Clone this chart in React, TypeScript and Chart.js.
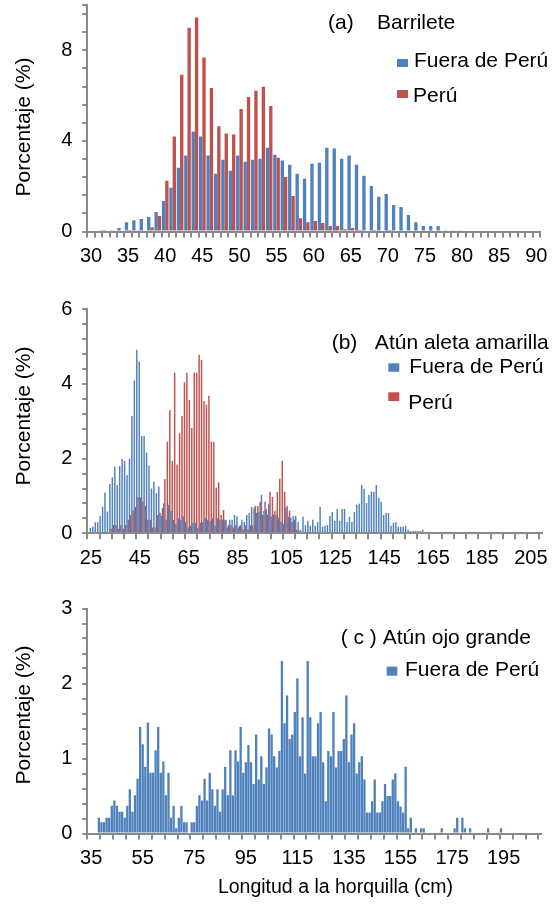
import React, { useEffect, useRef } from "react";
import { Chart, registerables } from "chart.js";

Chart.register(...registerables);

const FONT = "'Liberation Sans', Arial, Helvetica, sans-serif";
const AXIS = "#8a8a8a";
const BLUE = "#4F81BD";
const RED = "#C0504D";

function cmRange(a: number, b: number): number[] {
  const out: number[] = [];
  for (let v = a; v <= b; v++) out.push(v);
  return out;
}

// ---------- (a) Barrilete : 30..90 cm ----------
const barrileteCm = cmRange(30, 90);
const barrileteTickLabels = [30, 35, 40, 45, 50, 55, 60, 65, 70, 75, 80, 85, 90];
const barrileteFuera = [
  0, 0, 0.02, 0.06, 0.15, 0.41, 0.5, 0.55, 0.64, 0.86,
  1.35, 1.93, 2.81, 3.35, 4.41, 4.19, 3.35, 2.55, 3.17, 2.68,
  3.35, 3.08, 3.17, 3.21, 3.7, 3.39, 3.13, 2.95, 2.55, 2.33,
  2.99, 3.04, 3.7, 3.66, 3.21, 3.35, 2.95, 2.46, 2.01, 1.53,
  1.66, 1.17, 1.08, 0.73, 0.41, 0.24, 0.24, 0.24, 0.06, 0.03,
  0.03, 0, 0, 0, 0, 0, 0, 0, 0, 0,
  0,
];
const barrilettePeru = [
  0, 0.03, 0, 0, 0, 0.02, 0.06, 0.05, 0.19, 0.68,
  2.24, 4.19, 6.92, 9.0, 9.45, 7.68, 6.34, 4.65, 4.33, 4.28,
  5.41, 5.94, 6.21, 6.39, 5.54, 3.26, 2.41, 1.57, 0.59, 0.41,
  0.46, 0.37, 0.24, 0.24, 0.1, 0.15, 0.02, 0, 0.02, 0,
  0.02, 0, 0, 0, 0, 0, 0, 0, 0, 0,
  0, 0, 0, 0, 0, 0, 0, 0, 0, 0,
  0,
];
const barrileteYLabels = [0, 4, 8];

// ---------- (b) Atún aleta amarilla : 24..209 cm ----------
const aletaCm = cmRange(24, 209);
const aletaTickLabels = [25, 45, 65, 85, 105, 125, 145, 165, 185, 205];
const aletaFuera = [
  0, 0.14, 0.17, 0.29, 0.3, 0.46, 0.71, 1.09, 0.58, 1.32,
  1.49, 1.78, 1.29, 1.8, 1.99, 1.94, 1.56, 2.0, 3.14, 4.09,
  4.91, 4.6, 2.6, 2.6, 2.16, 1.81, 1.2, 1.38, 1.07, 1.25,
  0.46, 0.8, 0.36, 0.76, 0.6, 0.36, 0.25, 0.4, 0.36, 0.45,
  0.3, 0.16, 0.2, 0.28, 0.28, 0.14, 0.28, 0.3, 0.4, 0.36,
  0.32, 0.4, 0.2, 0.4, 0.36, 0.36, 0.36, 0.16, 0.36, 0.36,
  0.49, 0.45, 0.2, 0.36, 0.3, 0.49, 0.54, 0.7, 0.67, 0.55,
  0.58, 1.03, 0.6, 0.65, 0.79, 0.45, 0.5, 0.49, 0.41, 0.3,
  0.25, 0.68, 0.44, 0.41, 0.46, 0.46, 0.3, 0.09, 0.44, 0.22,
  0.33, 0.2, 0.36, 0.2, 0.3, 0.71, 0.17, 0.2, 0.22, 0.46,
  0.57, 0.33, 0.65, 0.33, 0.65, 0.65, 0.3, 0.44, 0.3, 0.57,
  0.76, 0.79, 1.29, 1.19, 0.81, 1.03, 1.11, 1.11, 1.29, 0.95,
  0.84, 0.49, 0.54, 0.54, 0.2, 0.28, 0.3, 0.17, 0.17, 0.17,
  0.2, 0.09, 0.06, 0.06, 0.06, 0.06, 0.06, 0.09, 0, 0,
  0, 0, 0, 0, 0, 0, 0, 0, 0, 0,
  0, 0, 0, 0, 0, 0, 0, 0, 0, 0,
  0, 0, 0, 0, 0, 0, 0, 0, 0, 0,
  0, 0, 0, 0, 0, 0, 0, 0, 0, 0,
  0, 0, 0, 0, 0, 0,
];
const aletaPeru = [
  0, 0, 0, 0, 0, 0, 0, 0, 0, 0.12,
  0.22, 0.22, 0.12, 0.22, 0.12, 0.22, 0.36, 0.49, 0.61, 0.7,
  0.96, 0.96, 0.85, 0.73, 0.36, 0.36, 0.15, 0.15, 0.49, 0.55,
  0.67, 1.45, 2.45, 3.3, 1.94, 4.3, 1.84, 2.68, 3.14, 4.04,
  4.3, 3.57, 2.82, 4.3, 4.3, 4.78, 4.64, 3.54, 3.44, 3.68,
  2.45, 2.45, 1.22, 1.36, 0.49, 0.62, 0.36, 0.22, 0.22, 0.15,
  0.22, 0.15, 0.21, 0.1, 0.21, 0.1, 0.21, 0.21, 0.73, 0.73,
  0.84, 0.49, 0.84, 0.5, 1.11, 0.97, 0.6, 1.11, 1.46, 1.94,
  1.11, 0.73, 0.6, 0.3, 0.36, 0.1, 0.05, 0, 0, 0,
  0, 0, 0, 0, 0, 0, 0, 0, 0, 0,
  0, 0, 0, 0, 0, 0, 0, 0, 0, 0,
  0, 0, 0, 0, 0, 0, 0, 0, 0, 0,
  0, 0, 0, 0, 0, 0, 0, 0, 0, 0,
  0, 0, 0, 0, 0, 0, 0, 0, 0, 0,
  0, 0, 0, 0, 0, 0, 0, 0, 0, 0,
  0, 0, 0, 0, 0, 0, 0, 0, 0, 0,
  0, 0, 0, 0, 0, 0, 0, 0, 0, 0,
  0, 0, 0, 0, 0, 0, 0, 0, 0, 0,
  0, 0, 0, 0, 0, 0,
];
const aletaYLabels = [0, 2, 4, 6];

// ---------- (c) Atún ojo grande : 34..209 cm ----------
const ojoCm = cmRange(34, 209);
const ojoTickLabels = [35, 55, 75, 95, 115, 135, 155, 175, 195];
const ojoFuera = [
  0, 0, 0, 0, 0.21, 0.15, 0.15, 0.21, 0.21, 0.37,
  0.44, 0.37, 0.29, 0.29, 0.21, 0.37, 0.59, 0.29, 0.51, 0.73,
  1.42, 1.19, 0.89, 1.48, 0.81, 0.81, 1.11, 1.42, 0.81, 0.96,
  0.51, 0.81, 0.21, 0.37, 0.07, 0.21, 0.37, 0.15, 0.15, 0,
  0.15, 0.15, 0.37, 0.51, 0.44, 0.73, 0.44, 0.81, 0.59, 0.37,
  0.59, 0.29, 0.59, 0.89, 0.51, 1.11, 0.51, 1.11, 0.96, 1.42,
  0.81, 0.95, 1.18, 0.95, 0.66, 1.32, 0.72, 1.03, 0.66, 0.88,
  1.4, 1.32, 1.03, 0.88, 1.1, 2.3, 1.47, 1.84, 1.26, 1.32,
  1.62, 2.07, 1.03, 1.55, 0.8, 2.3, 1.55, 1.03, 1.03, 1.47,
  1.62, 0.95, 0.43, 1.1, 1.03, 1.62, 0.88, 1.1, 1.1, 1.26,
  1.84, 0.95, 1.32, 1.47, 0.8, 0.95, 1.03, 0.72, 0.28, 0.28,
  0.43, 0.72, 0.28, 0.28, 0.43, 0.66, 0.5, 0.5, 0.72, 0.8,
  0.43, 0.36, 0.28, 0.89, 0.07, 0.21, 0, 0.07, 0, 0.07,
  0.07, 0, 0, 0, 0, 0, 0, 0.07, 0, 0,
  0, 0, 0.07, 0.21, 0, 0.21, 0.07, 0, 0.07, 0,
  0, 0, 0, 0, 0, 0.07, 0, 0, 0, 0,
  0.07, 0, 0, 0, 0, 0, 0, 0, 0, 0,
  0, 0, 0, 0, 0, 0,
];
const ojoYLabels = [0, 1, 2, 3];

// ---------- layout ----------
type TextItem = { text: string; x: number; y: number; size: number; rotate?: boolean; align?: CanvasTextAlign };
type BoxItem = { x: number; y: number; w: number; h: number; color: string };

type PanelSpec = {
  canvasTop: number;
  canvasHeight: number;
  padTop: number;
  padRight: number;
  yAxisWidth: number;
  xAxisHeight: number;
  cats: number[];
  tickLabels: number[];
  tickEvery: number;
  endTick: boolean;
  catPct: number;
  inflate: number;
  datasets: { label: string; data: number[]; color: string }[];
  yMax: number;
  yStep: number;
  yLabels: number[];
  texts: TextItem[];
  boxes: BoxItem[];
};

const TICK_SIZE = 20;
const LEG_SIZE = 21;
const YTITLE = "Porcentaje (%)";

const panels: PanelSpec[] = [
  {
    canvasTop: 0,
    canvasHeight: 290,
    padTop: 5,
    padRight: 20,
    yAxisWidth: 87.3,
    xAxisHeight: 58.5,
    cats: barrileteCm,
    tickLabels: barrileteTickLabels,
    tickEvery: 1,
    endTick: true,
    catPct: 0.9,
    inflate: 0,
    datasets: [
      { label: "Fuera de Perú", data: barrileteFuera, color: BLUE },
      { label: "Perú", data: barrilettePeru, color: RED },
    ],
    yMax: 10,
    yStep: 0.8,
    yLabels: barrileteYLabels,
    texts: [
      { text: YTITLE, x: 24.5, y: 127, size: 21, rotate: true, align: "center" },
      { text: "(a)    Barrilete", x: 328, y: 23, size: LEG_SIZE },
      { text: "Fuera de Perú", x: 414, y: 61, size: LEG_SIZE },
      { text: "Perú", x: 413, y: 96, size: LEG_SIZE },
    ],
    boxes: [
      { x: 397, y: 59, w: 11, h: 8, color: BLUE },
      { x: 397, y: 90, w: 11, h: 8, color: RED },
    ],
  },
  {
    canvasTop: 290,
    canvasHeight: 300,
    padTop: 19.3,
    padRight: 18.1,
    yAxisWidth: 87.3,
    xAxisHeight: 56.7,
    cats: aletaCm,
    tickLabels: aletaTickLabels,
    tickEvery: 5,
    endTick: false,
    catPct: 1,
    inflate: 0.12,
    datasets: [
      { label: "Fuera de Perú", data: aletaFuera, color: BLUE },
      { label: "Perú", data: aletaPeru, color: RED },
    ],
    yMax: 6,
    yStep: 0.4,
    yLabels: aletaYLabels,
    texts: [
      { text: YTITLE, x: 24.5, y: 126, size: 21, rotate: true, align: "center" },
      { text: "(b)   Atún aleta amarilla", x: 331.7, y: 53, size: LEG_SIZE },
      { text: "Fuera de Perú", x: 409.3, y: 76.8, size: LEG_SIZE },
      { text: "Perú", x: 408.3, y: 113, size: LEG_SIZE },
    ],
    boxes: [
      { x: 388.3, y: 73.3, w: 11, h: 8.4, color: BLUE },
      { x: 388.3, y: 102.3, w: 11, h: 8.7, color: RED },
    ],
  },
  {
    canvasTop: 590,
    canvasHeight: 319,
    padTop: 18.5,
    padRight: 19,
    yAxisWidth: 87.3,
    xAxisHeight: 75.5,
    cats: ojoCm,
    tickLabels: ojoTickLabels,
    tickEvery: 5,
    endTick: false,
    catPct: 0.9,
    inflate: 0,
    datasets: [{ label: "Fuera de Perú", data: ojoFuera, color: BLUE }],
    yMax: 3,
    yStep: 0.2,
    yLabels: ojoYLabels,
    texts: [
      { text: YTITLE, x: 24.5, y: 125, size: 21, rotate: true, align: "center" },
      { text: "( c ) Atún ojo grande", x: 340.7, y: 48.3, size: LEG_SIZE },
      { text: "Fuera de Perú", x: 405, y: 80, size: LEG_SIZE },
      { text: "Longitud a la horquilla (cm)", x: 335.5, y: 298, size: 19.5, align: "center" },
    ],
    boxes: [{ x: 386.7, y: 76.7, w: 10.6, h: 9, color: BLUE }],
  },
];

function makeAnnotPlugin(spec: PanelSpec) {
  return {
    id: "annot",
    afterDraw(chart: any) {
      const ctx: CanvasRenderingContext2D = chart.ctx;
      ctx.save();
      spec.boxes.forEach((b) => {
        ctx.fillStyle = b.color;
        ctx.fillRect(b.x, b.y, b.w, b.h);
      });
      spec.texts.forEach((t) => {
        ctx.save();
        ctx.font = `${t.size}px ${FONT}`;
        ctx.fillStyle = "#000";
        ctx.textBaseline = "middle";
        ctx.textAlign = t.align ?? "left";
        ctx.translate(t.x, t.y);
        if (t.rotate) ctx.rotate(-Math.PI / 2);
        ctx.fillText(t.text, 0, 0);
        ctx.restore();
      });
      ctx.restore();
    },
  };
}

function makeConfig(spec: PanelSpec): any {
  return {
    type: "bar",
    data: {
      labels: spec.cats.map(String),
      datasets: spec.datasets.map((d) => ({
        label: d.label,
        data: d.data,
        backgroundColor: d.color,
        borderWidth: 0,
        categoryPercentage: spec.catPct,
        barPercentage: 1,
        inflateAmount: spec.inflate,
      })),
    },
    options: {
      animation: false,
      responsive: false,
      maintainAspectRatio: false,
      events: [],
      layout: { padding: { top: spec.padTop, right: spec.padRight, left: 0, bottom: 0 } },
      plugins: { legend: { display: false }, tooltip: { enabled: false }, title: { display: false } },
      scales: {
        x: {
          type: "category",
          offset: true,
          afterFit: (s: any) => {
            s.height = spec.xAxisHeight;
            s.paddingLeft = 0;
            s.paddingRight = 0;
          },
          grid: {
            display: true,
            offset: true,
            drawOnChartArea: false,
            drawTicks: true,
            tickLength: 6,
            lineWidth: 2,
            color: (ctx: any) => {
              if (ctx.index === undefined) return spec.endTick ? AXIS : "rgba(0,0,0,0)";
              return ctx.index % spec.tickEvery === 0 ? AXIS : "rgba(0,0,0,0)";
            },
          },
          border: { display: true, color: AXIS, width: 2, z: 1 },
          ticks: {
            autoSkip: false,
            maxRotation: 0,
            minRotation: 0,
            padding: 7,
            color: "#000",
            font: { family: FONT, size: TICK_SIZE },
            callback: (_v: any, i: number) => {
              const cm = spec.cats[i];
              return spec.tickLabels.includes(cm) ? String(cm) : "";
            },
          },
        },
        y: {
          type: "linear",
          min: 0,
          max: spec.yMax,
          bounds: "data",
          afterFit: (s: any) => {
            s.width = spec.yAxisWidth;
            s.paddingTop = 0;
            s.paddingBottom = 0;
          },
          grid: {
            display: true,
            drawOnChartArea: false,
            drawTicks: true,
            tickLength: 5,
            lineWidth: 2,
            color: AXIS,
          },
          border: { display: true, color: AXIS, width: 2, z: 1 },
          ticks: {
            autoSkip: false,
            stepSize: spec.yStep,
            includeBounds: false,
            padding: 10,
            color: "#000",
            font: { family: FONT, size: TICK_SIZE },
            callback: (v: number) => {
              const hit = spec.yLabels.find((l) => Math.abs(l - v) < 1e-6);
              return hit === undefined ? "" : String(hit);
            },
          },
        },
      },
    },
    plugins: [makeAnnotPlugin(spec)],
  };
}

function Panel({ spec }: { spec: PanelSpec }) {
  const ref = useRef<HTMLCanvasElement>(null);
  useEffect(() => {
    if (!ref.current) return;
    const chart = new Chart(ref.current, makeConfig(spec));
    return () => chart.destroy();
  }, [spec]);
  return (
    <canvas
      ref={ref}
      width={560}
      height={spec.canvasHeight}
      style={{ position: "absolute", left: 0, top: spec.canvasTop, width: 560, height: spec.canvasHeight }}
    />
  );
}

export default function App() {
  return (
    <div style={{ position: "fixed", left: 0, top: 0, width: 560, height: 909, background: "#fff" }}>
      {panels.map((p, i) => (
        <Panel key={i} spec={p} />
      ))}
    </div>
  );
}
